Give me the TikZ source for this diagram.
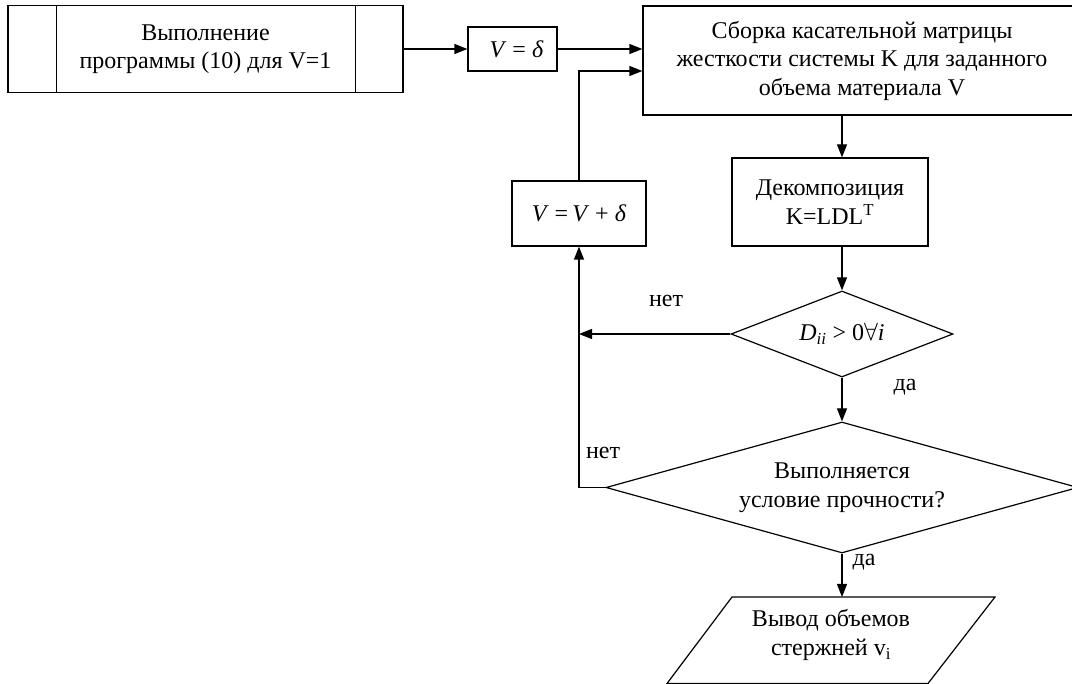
\documentclass[tikz,border=0pt]{standalone}
\usepackage{fontspec}
\setmainfont{Liberation Serif}
\usetikzlibrary{arrows.meta,shapes.geometric}
\newcommand\fsz{\fontsize{24}{28.5}\selectfont}
\begin{document}
\begin{tikzpicture}[x=1pt,y=-1pt,line width=1.2pt,
  box/.style={draw,rectangle,inner sep=0pt,align=center,font=\fsz},
  dia/.style={draw,diamond,inner sep=0pt,align=center,font=\fsz},
  arr/.style={-{Triangle[length=13pt,width=10pt]}},
  lbl/.style={font=\fsz,inner sep=0pt}]
\useasboundingbox (0,0) rectangle (1072,684);
\clip (0,0) rectangle (1072,684);
% nodes
\node[box,minimum width=395pt,minimum height=87pt] (pp) at (205.5,49) {Выполнение\\программы (10) для V=1};
\draw ([xshift=49pt]pp.north west) -- ([xshift=49pt]pp.south west);
\draw ([xshift=-48pt]pp.north east) -- ([xshift=-48pt]pp.south east);
\node[box,minimum width=89pt,minimum height=44pt] (vd) at (512.5,49) {\hspace{8pt}\textit{V} = \textit{δ}};
\node[box,minimum width=438pt,minimum height=109pt] (main) at (862,60.5) {Сборка касательной матрицы\\жесткости системы K для заданного\\объема материала V};
\node[box,minimum width=196pt,minimum height=88pt] (dec) at (830,202) {Декомпозиция\\K=LDL\textsuperscript{T}};
\node[box,minimum width=134pt,minimum height=65pt] (vv) at (579,213.5) {\textit{V} =\,\textit{V} + \textit{δ}};
\node[dia,aspect=2.58,minimum width=222pt,minimum height=86pt] (d1) at (842,334) {\textit{D}\textsubscript{\textit{ii}} > 0$\forall$\textit{i}};
\node[dia,aspect=3.6,minimum width=472pt,minimum height=131pt] (d2) at (842,487.5) {Выполняется\\условие прочности?};
\node[lbl,align=center] (out) at (831,635) {Вывод объемов\\стержней v\textsubscript{i}};
\draw (732,597) -- (995,597) -- (928,683.5) -- (667,683.5) -- cycle;
\coordinate (outtop) at (842,597);
% labels
\node[lbl] (n1) at (666,301) {нет};
\node[lbl] (n2) at (603,453) {нет};
\node[lbl] (y1) at (905,387) {да};
\node[lbl] (y2) at (864,562) {да};
% connectors
\draw[arr] (pp.east) -- (vd.west);
\draw[arr] (vd.east) -- (vd.east -| main.west);
\draw[arr] (vv.north) -- (vv.north |- 0,71) -- (main.west |- 0,71);
\draw[arr] (main.south -| d1.north) -- (dec.north -| d1.north);
\draw[arr] (dec.south -| d1.north) -- (d1.north);
\draw[arr] (d1.west) -- (d1.west -| vv.south);
\draw[arr] (d1.south) -- (d2.north);
\draw[arr] (d2.west) -- (d2.west -| vv.south) -- (vv.south);
\draw[arr] (d2.south) -- (outtop);
\end{tikzpicture}
\end{document}
